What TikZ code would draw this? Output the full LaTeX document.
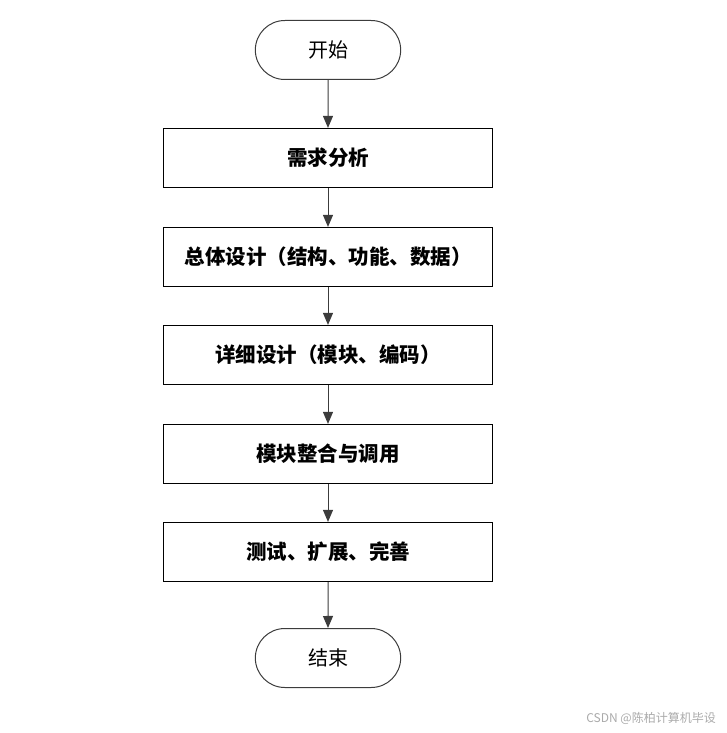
\documentclass[tikz,border=0pt]{standalone}
\usepackage{fontspec}
\usepackage{xcolor}
\usepackage{tikz}
\usetikzlibrary{
  shapes.misc,
  arrows.meta,
  positioning
}
\newfontfamily\cjk{Noto Sans CJK SC}
\definecolor{linegray}{RGB}{60, 60, 60}
\definecolor{markgray}{RGB}{170, 170, 170}
\tikzset{
  termnode/.style = {
    rounded rectangle, draw=linegray, line width=1pt,
    fill=white, minimum width=152pt, minimum height=59pt,
    align=center, font=\cjk\fontsize{20}{24}\selectfont
  },
  stepbox/.style = {
    rectangle, draw=black, line width=1.2pt,
    fill=white, minimum width=329pt, minimum height=59pt,
    align=center, font=\cjk\bfseries\fontsize{20.5}{24}\selectfont
  },
  arr/.style = {-{Triangle[length=12pt, width=10pt]}, draw=linegray,
                line width=1pt},
}

\begin{document}
\begin{tikzpicture}[x=1pt, y=1pt]

  \useasboundingbox (0,0) rectangle (727,-733);

  %% ── Flow column ─────────────────────────────────────────────────────
  \node[termnode] (start) at (328,-50)  {开始};

  \node[stepbox] (req)     at (328,-158) {需求分析};
  \node[stepbox] (overall) at (328,-257) {总体设计（结构、功能、数据）};
  \node[stepbox] (detail)  at (328,-355) {详细设计（模块、编码）};
  \node[stepbox] (integ)   at (328,-454) {模块整合与调用};
  \node[stepbox] (test)    at (328,-552) {测试、扩展、完善};

  \node[termnode] (stop)   at (328,-658) {结束};

  %% ── Watermark ───────────────────────────────────────────────────────
  \node[anchor=east, text=markgray, inner sep=0pt,
        font=\cjk\fontsize{12}{14}\selectfont] (mark) at (716,-718)
    {CSDN @陈柏计算机毕设};

  %% ── Arrows ──────────────────────────────────────────────────────────
  \draw[arr] (start)   -- (req);
  \draw[arr] (req)     -- (overall);
  \draw[arr] (overall) -- (detail);
  \draw[arr] (detail)  -- (integ);
  \draw[arr] (integ)   -- (test);
  \draw[arr] (test)    -- (stop);

\end{tikzpicture}
\end{document}
